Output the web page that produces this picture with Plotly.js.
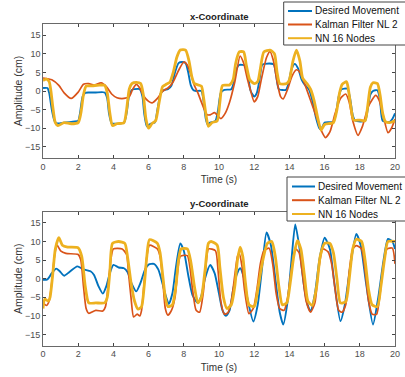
<!DOCTYPE html>
<html>
<head>
<meta charset="utf-8">
<script src="https://cdn.plot.ly/plotly-3.0.1.min.js"></script>
<style>html,body{margin:0;padding:0;background:#fff;}#chart{width:405px;height:377px;}</style>
</head>
<body>
<div id="chart"></div>
<script>
// ---- data ----
const seriesNames = ["Desired Movement", "Kalman Filter NL 2", "NN 16 Nodes"];
const panelTitles = ["x-Coordinate", "y-Coordinate"];
const xTickVals = [0, 2, 4, 6, 8, 10, 12, 14, 16, 18, 20];
const yTickVals = [-15, -10, -5, 0, 5, 10, 15];

// x-Coordinate panel
const xDesiredT = [0,0.25,0.35,0.5,0.65,0.8,1.2,1.6,2.0,2.1,2.25,2.4,2.6,3.0,3.5,3.65,3.75,3.9,4.1,4.6,4.75,4.9,5.05,5.2,5.5,5.65,5.75,5.9,6.1,6.35,6.5,6.7,6.9,7.1,7.3,7.5,7.7,7.9,8.1,8.25,8.4,8.55,8.7,9.0,9.1,9.25,9.35,9.5,9.8,9.95,10.1,10.3,10.7,10.85,11.0,11.15,11.5,11.65,11.8,12.0,12.15,12.3,12.45,12.6,13.1,13.25,13.4,13.8,13.95,14.1,14.3,14.5,14.7,14.9,15.1,15.3,15.5,15.7,15.8,16.0,16.5,16.65,16.8,16.95,17.3,17.45,17.6,17.75,18.3,18.45,18.6,18.75,19.0,19.15,19.3,19.7,19.85,20];
const xDesiredV = [0.8,0.8,-0.5,-5,-8,-8.7,-8.5,-8.3,-8.0,-6,-1.5,-0.5,-0.4,-0.4,-0.4,-2,-6,-8.7,-8.8,-8.5,-6,-1,0.3,0.5,0.5,-1.5,-6,-9.5,-8.8,-8.5,-5,-0.5,0.3,0.5,1.5,5,7.5,7.8,7.5,5,1.5,0.2,0,0,-2,-7.5,-9,-8.5,-8,-5,-0.5,0.3,0.5,2.5,6,7,6.8,4,0,-1.5,-0.5,3,7,7.3,7.2,4,0.5,0.3,2,5.5,7.3,6,3,1.5,0.5,-2.5,-7,-10,-10.3,-8.5,-8.3,-6,-1.5,0.4,0.6,-2,-6.5,-8,-8,-5,-1,0,0.2,-2.5,-8,-8.3,-7.5,-6];

const xKalmanT = [0,0.5,0.9,1.2,1.6,2.0,2.3,2.6,2.9,3.3,3.6,3.9,4.2,4.6,4.9,5.1,5.3,5.5,5.7,6.0,6.2,6.5,6.8,7.1,7.4,7.7,8.0,8.2,8.4,8.6,8.8,9.0,9.3,9.5,9.75,10.1,10.35,10.6,10.9,11.2,11.4,11.6,11.8,12.0,12.2,12.4,12.7,12.9,13.1,13.3,13.5,13.65,13.9,14.15,14.4,14.6,14.9,15.2,15.5,15.8,16.05,16.3,16.6,16.9,17.2,17.4,17.6,17.9,18.15,18.5,18.9,19.1,19.35,19.6,19.8,20];
const xKalmanV = [3.5,3.0,1.5,-0.5,-2.0,-0.3,1.8,2.0,1.6,2.2,1.2,-0.8,-1.8,-2.0,-1.5,0.5,1.8,0.8,-1.2,-2.8,-3.2,-2,0,0.8,2.5,5.5,7.8,7,4.5,1.5,-0.5,-3,-6.3,-6.4,-5.8,-7.4,-6,-3,2.5,9.4,7.5,3.5,0,-2.9,-1.5,3,9,10.6,8,2.5,-1.5,-2.1,0.5,4,5.7,5,1.5,-2.5,-6.5,-10.5,-12.5,-11,-6,-2,-0.8,-3,-8,-11.9,-9.5,-4,-1.2,-2.5,-7,-11.2,-10,-7.5];

const xNNT = [0,0.2,0.35,0.45,0.55,0.7,0.85,1.2,1.6,2.0,2.15,2.3,2.45,2.8,3.2,3.5,3.65,3.8,3.95,4.2,4.6,4.75,4.9,5.05,5.3,5.55,5.7,5.85,6.0,6.2,6.4,6.6,6.8,7.0,7.2,7.4,7.6,7.8,8.1,8.3,8.45,8.6,9.0,9.1,9.25,9.4,9.6,9.9,10.05,10.2,10.6,10.8,10.95,11.15,11.4,11.55,11.75,12.0,12.2,12.35,12.55,12.9,13.15,13.3,13.45,13.85,14.0,14.2,14.4,14.6,14.75,15.0,15.2,15.4,15.6,15.8,16.0,16.5,16.7,16.85,17.0,17.25,17.35,17.5,17.65,18.0,18.3,18.45,18.6,18.75,19.0,19.15,19.3,19.45,19.7,20];
const xNNV = [2.8,3.2,2.5,0,-4,-8.5,-9.3,-8.5,-8.8,-8.5,-6,-1,1.3,1.4,1.6,1.5,-0.5,-6,-9.3,-8.8,-8.5,-5,0.5,2,2.3,2,-1,-7.5,-10,-8.7,-8,-3,1.2,1.8,2.3,5,9,11,11,8,4,2,1.3,-1,-6,-9.5,-8.5,-8,-3,1.5,1.6,3,7.5,10.5,10.5,7,3,2,2.5,6,10.5,11,10,5,2,2,3,8,11,8,3.5,2,0.5,-2.5,-7,-10.5,-9,-8.5,-5,-0.5,1.8,2.5,0.5,-4.5,-7.8,-7.8,-8,-4,1,2.2,2,-1,-6,-8.2,-8.5,-8];

// y-Coordinate panel
const yDesiredT = [0,0.25,0.5,0.75,0.95,1.2,1.5,1.95,2.3,2.7,2.9,3.15,3.4,3.6,3.8,4.0,4.3,4.6,4.8,5.05,5.3,5.55,5.8,6.0,6.3,6.55,6.8,7.0,7.15,7.35,7.55,7.8,8.0,8.25,8.5,8.8,9.0,9.2,9.5,9.75,10.0,10.2,10.4,10.6,10.8,11.0,11.2,11.4,11.6,11.95,12.2,12.45,12.7,12.95,13.2,13.45,13.65,13.9,14.1,14.33,14.55,14.8,15.0,15.2,15.45,15.7,16.0,16.3,16.55,16.9,17.15,17.45,17.8,18.05,18.35,18.75,19.05,19.35,19.6,19.85,20];
const yDesiredV = [-0.3,-0.2,1.5,2.7,2.0,0.8,1.8,3.3,2.5,2.0,1.0,-2,-4,-2,1.5,3.7,3.0,2.8,1.8,-1.5,-3.4,-1,2.5,3.8,4.0,2.5,-1.5,-5,-6.8,-4,3,9.5,7.5,1,-4.5,-6.5,-4.5,0,3.7,1.5,-4,-8.5,-10,-8.5,-3,1,2.8,0.5,-5,-11.5,-7,3,12.4,9,0,-9,-12.3,-6,4,14.6,9,-1,-6.5,-8.7,-4,5,11,8,-1,-11.4,-7,3,12,9,-1,-12.3,-5,5,10.7,10,8];

const yKalmanT = [0,0.2,0.35,0.5,0.65,0.8,1.0,1.3,2.0,2.15,2.3,2.45,2.6,3.0,3.4,3.55,3.7,3.85,4.0,4.5,4.75,4.85,5.0,5.15,5.35,5.5,5.6,5.75,5.9,6.05,6.5,6.65,6.8,6.95,7.1,7.3,7.5,7.65,7.8,8.2,8.35,8.5,8.7,8.9,9.1,9.25,9.4,9.8,9.95,10.1,10.3,10.5,10.7,10.9,11.05,11.15,11.3,11.45,11.7,11.95,12.15,12.35,12.55,12.85,13.05,13.25,13.45,13.7,13.9,14.1,14.35,14.55,14.75,14.95,15.2,15.45,15.65,15.9,16.2,16.4,16.6,16.8,17.0,17.2,17.4,17.6,17.8,18.1,18.3,18.5,18.7,18.95,19.15,19.35,19.55,19.85,20];
const yKalmanV = [-6.5,-7.2,-6,-1,6,9.0,7.5,6.8,6.5,5,-2,-8,-9.3,-8.5,-8.7,-7.5,-2,5,8,8,6.5,2,-5,-10.3,-9.5,-10,-8.5,-1,6,9,8,6,0,-8,-9.8,-8.5,-5,2,6,6.2,3,-3,-8.5,-9,-4,3,8,7.5,2,-6,-9.5,-9.2,-6,1,6,6.8,3.5,-3,-9.4,-8,-3,4,7.5,8.2,4,-4,-8,-8.5,-5,2,8,7,1,-6,-9,-6.5,2,8,7.2,4,-3,-8.5,-9,-7,2,8,8.9,8,2,-6,-9.5,-9.6,-4,4,8,8.2,4];

const yNNT = [0,0.1,0.3,0.4,0.55,0.7,0.9,1.1,1.4,2.0,2.2,2.4,2.6,3.0,3.5,3.65,3.8,3.95,4.3,4.65,4.8,5.0,5.2,5.4,5.6,5.75,5.9,6.05,6.5,6.65,6.8,6.95,7.1,7.35,7.55,7.7,7.85,8.2,8.4,8.6,8.8,9.0,9.2,9.4,9.55,9.9,10.05,10.25,10.45,10.7,10.9,11.05,11.2,11.35,11.5,11.7,12.0,12.2,12.45,12.75,13.0,13.2,13.4,13.6,13.85,14.05,14.25,14.45,14.65,14.85,15.05,15.3,15.55,15.75,16.0,16.3,16.5,16.7,16.9,17.2,17.4,17.6,17.8,18.1,18.3,18.5,18.7,19.0,19.2,19.4,19.6,20];
const yNNV = [-8,-5.5,-6,-5,1,8,11,9,8.5,8.3,6,-2,-6.5,-6.5,-6.5,-5,2,9.5,10,9.5,6,-1,-6,-8.2,-7.5,-2,6,10.5,9.5,7,1,-5,-7.5,-7,-2,5,8,8,4.5,-2,-6.5,-5,2,9.5,10,9,3,-5,-8,-7,-2,5,8.5,6,-1,-7,-7.5,-3,4,9.5,10,6,-2,-7,-6.5,-1,6,10.2,8,1,-6,-7.2,-2,6,9.5,9.5,7,0,-6.5,-6.2,0,8,10.6,10,5,-3,-7,-7.5,-2,5,10,10];

// ---- rendering ----
const W = 405, H = 377;
const M = {l: 43, r: 10, t: 24, b: 31};
const PW = W - M.l - M.r, PH = H - M.t - M.b;
const px = x => (x - M.l) / PW;          // pixel -> paper x
const py = y => (H - M.b - y) / PH;      // pixel -> paper y

const colors = ["#0072BD", "#D95319", "#EDB120"];
const widths = [1.9, 1.7, 2.8];
const font = "Liberation Sans, Arial, sans-serif";

function tr(t, v, i, ax) {
  return {
    x: t, y: v, type: "scatter", mode: "lines",
    name: seriesNames[i], showlegend: false,
    xaxis: ax === 1 ? "x" : "x2", yaxis: ax === 1 ? "y" : "y2",
    line: {color: colors[i], width: widths[i], shape: "spline", smoothing: 0.6}
  };
}
const data = [
  tr(xDesiredT, xDesiredV, 0, 1), tr(xKalmanT, xKalmanV, 1, 1), tr(xNNT, xNNV, 2, 1),
  tr(yDesiredT, yDesiredV, 0, 2), tr(yKalmanT, yKalmanV, 1, 2), tr(yNNT, yNNV, 2, 2)
];

function xax(anchor) {
  return {
    anchor: anchor, domain: [0, 1], range: [0, 20], tickvals: xTickVals,
    ticks: "inside", ticklen: 3, tickcolor: "#444", showline: true, linecolor: "#444", linewidth: 0.8,
    mirror: "ticks", showgrid: false, zeroline: false,
    tickfont: {family: font, size: 9, color: "#4d4d4d"},
    title: {text: "Time (s)", font: {family: font, size: 10, color: "#333"}, standoff: 5}
  };
}
function yax(anchor, dom) {
  return {
    anchor: anchor, domain: dom, range: [-18, 18], tickvals: yTickVals,
    ticks: "inside", ticklen: 3, tickcolor: "#444", showline: true, linecolor: "#444", linewidth: 0.8,
    mirror: "ticks", showgrid: false, zeroline: false,
    tickfont: {family: font, size: 9, color: "#4d4d4d"},
    title: {text: "Amplitude (cm)", font: {family: font, size: 10.5, color: "#333"}, standoff: 0}
  };
}

const shapes = [], annotations = [];
// panel titles
annotations.push({text: "<b>" + panelTitles[0] + "</b>", xref: "paper", yref: "paper", x: 0.5, y: py(16.5), xanchor: "center", yanchor: "middle", showarrow: false, font: {family: font, size: 9.5, color: "#222"}});
annotations.push({text: "<b>" + panelTitles[1] + "</b>", xref: "paper", yref: "paper", x: 0.5, y: py(204), xanchor: "center", yanchor: "middle", showarrow: false, font: {family: font, size: 9.5, color: "#222"}});

// legend boxes (drawn in pixel space)
function legend(boxX, boxTop, boxBot, rows, lx0, lx1, tx) {
  shapes.push({type: "rect", xref: "paper", yref: "paper", x0: px(boxX), x1: px(W + 20), y0: py(boxBot), y1: py(boxTop), line: {color: "#444", width: 1}, fillcolor: "#fff", layer: "above"});
  rows.forEach((ry, i) => {
    shapes.push({type: "line", xref: "paper", yref: "paper", x0: px(lx0), x1: px(lx1), y0: py(ry), y1: py(ry), line: {color: colors[i], width: 2}, layer: "above"});
    annotations.push({text: seriesNames[i], xref: "paper", yref: "paper", x: px(tx), y: py(ry), xanchor: "left", yanchor: "middle", showarrow: false, font: {family: font, size: 10, color: "#111"}});
  });
}
legend(283.7, 2, 45, [11, 24.5, 38.2], 288, 312, 313);
legend(287, 177, 221, [186.5, 200.2, 214], 292, 315, 316);

const layout = {
  width: W, height: H, margin: M, paper_bgcolor: "#fff", plot_bgcolor: "#fff",
  showlegend: false,
  xaxis: xax("y"), yaxis: yax("x", [py(158), py(24)]),
  xaxis2: xax("y2"), yaxis2: yax("x2", [py(345.7), py(211.7)]),
  shapes: shapes, annotations: annotations
};
Plotly.newPlot("chart", data, layout, {displayModeBar: false, staticPlot: true});
</script>
</body>
</html>
